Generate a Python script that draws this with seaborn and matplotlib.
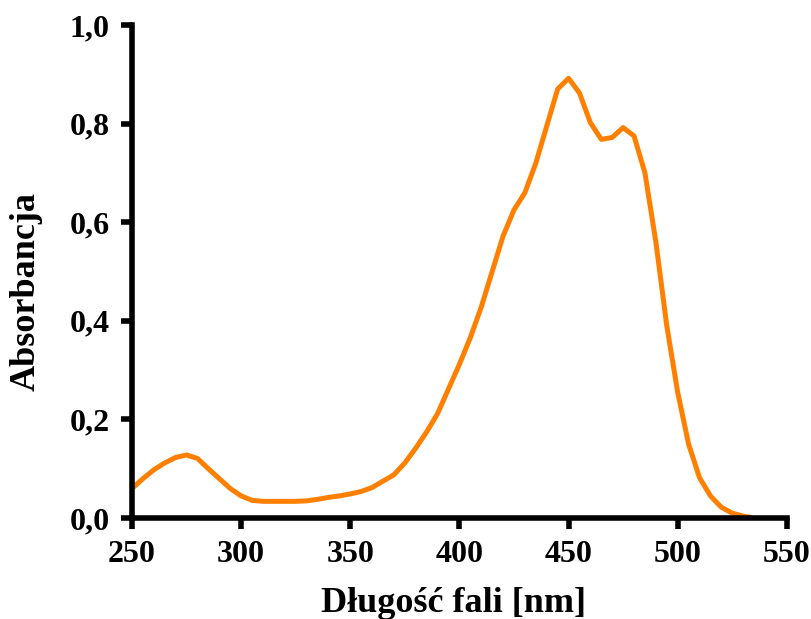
import matplotlib
matplotlib.use("Agg")
import pandas as pd
import matplotlib.pyplot as plt
import seaborn as sns

# wavelength [nm] and absorbance
wavelength = [250, 255, 260, 265, 270, 275, 280, 285, 290, 295, 300, 305, 310, 315,
              320, 325, 330, 335, 340, 345, 350, 355, 360, 365, 370, 375, 380, 385,
              390, 395, 400, 405, 410, 415, 420, 425, 430, 435, 440, 445, 450, 455,
              460, 465, 470, 475, 480, 485, 490, 495, 500, 505, 510, 515, 520, 525,
              530, 533]
absorbance = [0.060, 0.080, 0.098, 0.112, 0.123, 0.128, 0.121, 0.100, 0.080, 0.060,
              0.045, 0.036, 0.034, 0.034, 0.034, 0.034, 0.035, 0.038, 0.042, 0.045,
              0.049, 0.054, 0.062, 0.075, 0.088, 0.112, 0.142, 0.175, 0.212, 0.262,
              0.312, 0.366, 0.428, 0.500, 0.572, 0.625, 0.660, 0.720, 0.795, 0.870,
              0.892, 0.862, 0.802, 0.768, 0.772, 0.792, 0.775, 0.700, 0.560, 0.390,
              0.255, 0.150, 0.082, 0.045, 0.022, 0.010, 0.004, 0.002]

x_ticks = [250, 300, 350, 400, 450, 500, 550]
y_ticks = [0.0, 0.2, 0.4, 0.6, 0.8, 1.0]
y_tick_labels = ["0,0", "0,2", "0,4", "0,6", "0,8", "1,0"]


def main():
    df = pd.DataFrame({"wavelength": wavelength, "absorbance": absorbance})

    sns.set_style("ticks")
    plt.rcParams["font.family"] = ["Liberation Serif", "DejaVu Serif"]
    plt.rcParams["font.weight"] = "bold"
    plt.rcParams["text.color"] = "black"
    plt.rcParams["axes.labelcolor"] = "black"

    fig = plt.figure(figsize=(8.12, 6.19), dpi=100)
    ax = fig.add_axes([0.1626, 0.163, 0.8064, 0.7966])

    sns.lineplot(data=df, x="wavelength", y="absorbance", color="#ff8000",
                 linewidth=3.6, ax=ax)

    ax.set_xlim(250, 550)
    ax.set_ylim(0, 1.0)
    ax.set_xticks(x_ticks)
    ax.set_xticklabels([str(t) for t in x_ticks])
    ax.set_yticks(y_ticks)
    ax.set_yticklabels(y_tick_labels)

    for side in ["top", "right"]:
        ax.spines[side].set_visible(False)
    for side in ["left", "bottom"]:
        ax.spines[side].set_linewidth(4)
        ax.spines[side].set_color("black")
    ax.tick_params(axis="both", direction="out", length=8, width=4,
                   labelsize=23, pad=8, color="black", labelcolor="black")
    for lbl in ax.get_xticklabels() + ax.get_yticklabels():
        lbl.set_fontweight("bold")

    ax.set_xlabel("Długość fali [nm]", fontsize=26, fontweight="bold")
    ax.set_ylabel("Absorbancja", fontsize=26, fontweight="bold")
    ax.xaxis.set_label_coords(0.491, -0.14)
    ax.yaxis.set_label_coords(-0.137, 0.46)

    fig.savefig("out.png", dpi=100)
    plt.close(fig)


if __name__ == "__main__":
    main()
